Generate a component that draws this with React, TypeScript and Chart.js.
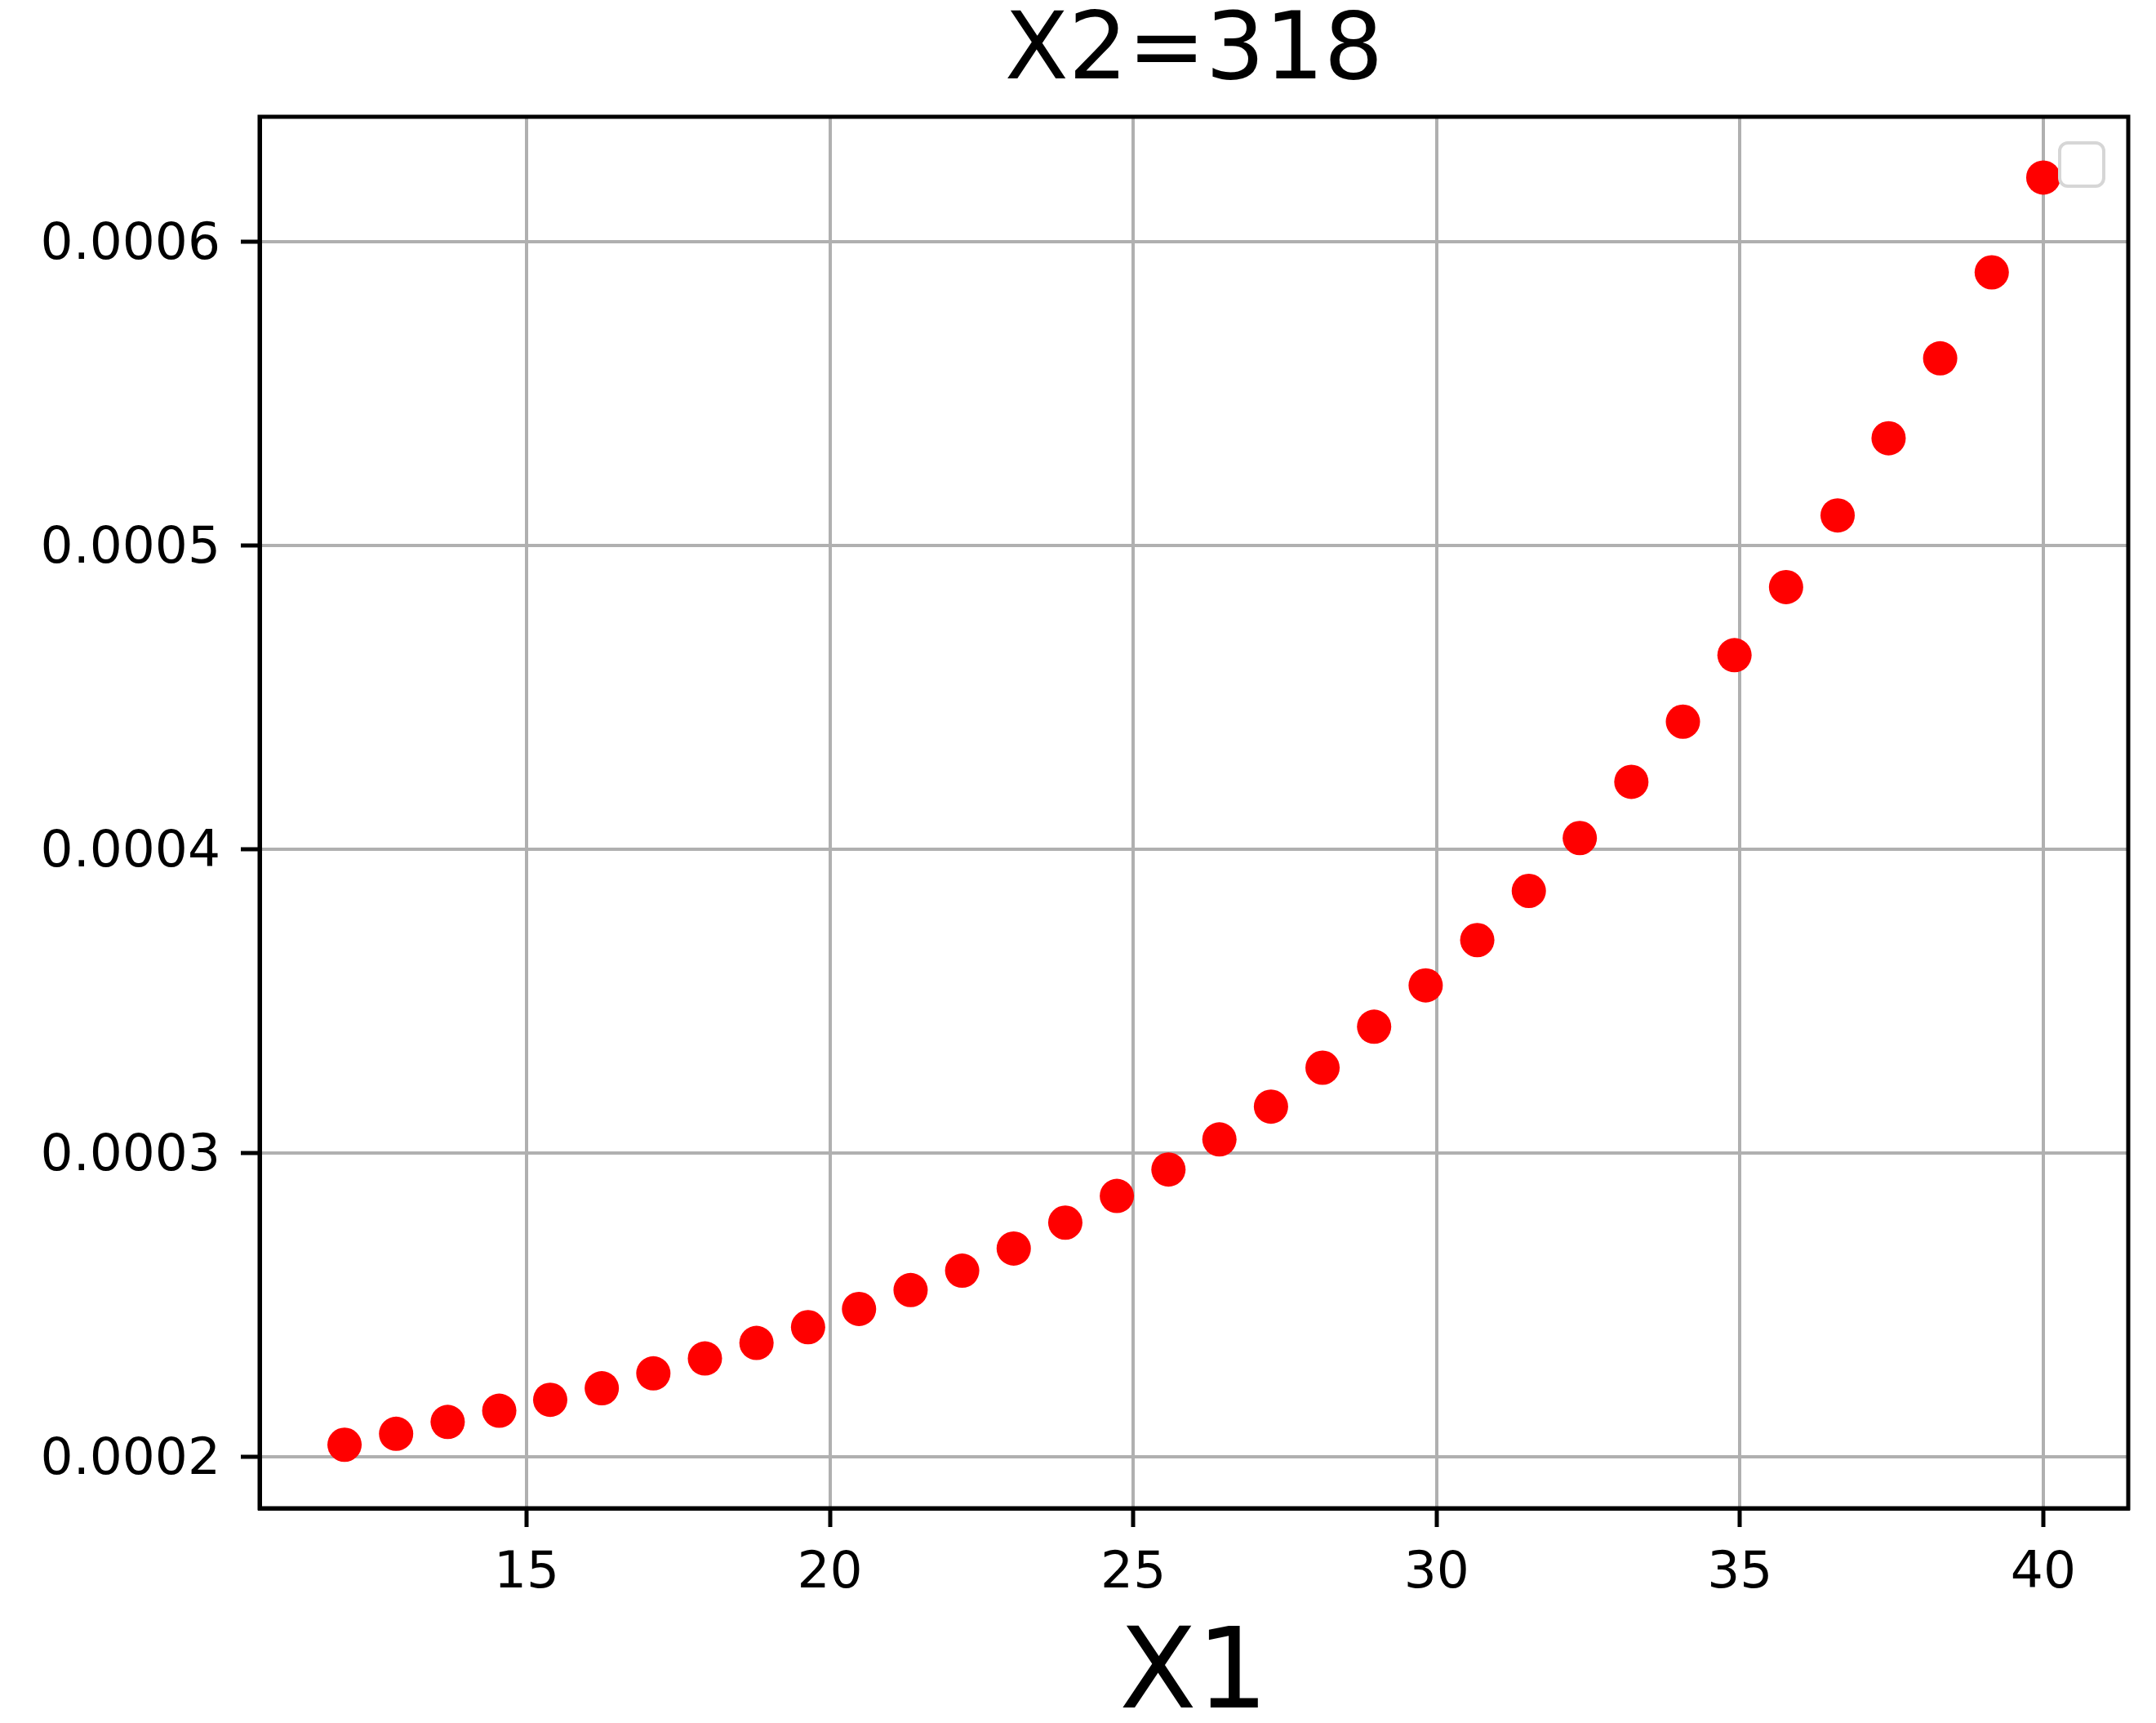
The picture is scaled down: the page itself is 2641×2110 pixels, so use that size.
import { useEffect, useRef } from 'react';
import { Chart, registerables, Plugin } from 'chart.js';

Chart.register(...registerables);

// data
const x1Values = [
  12.0, 12.85, 13.7, 14.55, 15.39, 16.24, 17.09, 17.94, 18.79, 19.64, 20.48, 21.33,
  22.18, 23.03, 23.88, 24.73, 25.58, 26.42, 27.27, 28.12, 28.97, 29.82, 30.67, 31.52,
  32.36, 33.21, 34.06, 34.91, 35.76, 36.61, 37.45, 38.3, 39.15, 40.0,
];
const probValues = [
  0.0002039, 0.0002075, 0.0002114, 0.0002151, 0.0002187, 0.0002225, 0.0002274, 0.0002323,
  0.0002374, 0.0002426, 0.0002486, 0.0002548, 0.0002612, 0.0002685, 0.000277, 0.0002858,
  0.0002945, 0.0003044, 0.0003152, 0.000328, 0.0003415, 0.0003551, 0.00037, 0.0003862,
  0.0004036, 0.0004221, 0.0004419, 0.0004638, 0.0004862, 0.0005098, 0.0005352, 0.0005615,
  0.0005898, 0.000621,
];
const xTicks = [15, 20, 25, 30, 35, 40];
const yTicks = [0.0002, 0.0003, 0.0004, 0.0005, 0.0006];
const xLimits = [10.6, 41.4];
const yLimits = [0.000183, 0.000641];

const FONT = 'DejaVu Sans';

// matplotlib style frame + the empty legend box in the corner
const framePlugin: Plugin = {
  id: 'frame',
  afterDraw(chart) {
    const { ctx, chartArea: a } = chart;
    ctx.save();
    ctx.strokeStyle = '#000';
    ctx.lineWidth = 5;
    ctx.strokeRect(a.left, a.top, a.right - a.left, a.bottom - a.top);

    ctx.strokeStyle = '#d6d6d6';
    ctx.lineWidth = 4;
    ctx.beginPath();
    ctx.roundRect(a.right - 84, a.top + 32, 54, 53, 10);
    ctx.fillStyle = 'rgba(255,255,255,0.8)';
    ctx.fill();
    ctx.stroke();
    ctx.restore();
  },
};

export default function App() {
  const canvasRef = useRef<HTMLCanvasElement>(null);
  const chartRef = useRef<Chart | null>(null);

  useEffect(() => {
    document.body.style.margin = '0';
    if (!canvasRef.current) return;
    if (chartRef.current) chartRef.current.destroy();

    chartRef.current = new Chart(canvasRef.current, {
      type: 'scatter',
      data: {
        datasets: [
          {
            data: x1Values.map((x, i) => ({ x, y: probValues[i] })),
            backgroundColor: '#ff0000',
            borderWidth: 0,
            pointRadius: 21,
            pointHoverRadius: 21,
          },
        ],
      },
      options: {
        animation: false,
        responsive: true,
        maintainAspectRatio: false,
        devicePixelRatio: 1,
        layout: { padding: { left: 0, right: 34, top: 0, bottom: 0 } },
        plugins: {
          legend: { display: false },
          tooltip: { enabled: false },
          title: {
            display: true,
            text: 'X2=318',
            color: '#000',
            fullSize: false,
            font: { family: FONT, size: 114, weight: 'normal', lineHeight: 1 },
            padding: { top: 9, bottom: 20 },
          },
        },
        scales: {
          x: {
            type: 'linear',
            min: xLimits[0],
            max: xLimits[1],
            afterBuildTicks: (scale) => {
              scale.ticks = xTicks.map((value) => ({ value }));
            },
            afterFit: (scale) => {
              scale.height = 263;
            },
            grid: {
              color: '#b0b0b0',
              lineWidth: 4,
              tickColor: '#000',
              tickWidth: 5,
              tickLength: 23,
            },
            border: { display: true, color: '#000', width: 5 },
            ticks: {
              color: '#000',
              padding: 20,
              font: { family: FONT, size: 63 },
              callback: (v) => String(v),
            },
            title: {
              display: true,
              text: 'X1',
              color: '#000',
              font: { family: FONT, size: 138, lineHeight: 0.8 },
              padding: { top: 0, bottom: 0 },
            },
          },
          y: {
            type: 'linear',
            min: yLimits[0],
            max: yLimits[1],
            afterBuildTicks: (scale) => {
              scale.ticks = yTicks.map((value) => ({ value }));
            },
            afterFit: (scale) => {
              scale.width = 318;
            },
            grid: {
              color: '#b0b0b0',
              lineWidth: 4,
              tickColor: '#000',
              tickWidth: 5,
              tickLength: 23,
            },
            border: { display: true, color: '#000', width: 5 },
            ticks: {
              color: '#000',
              padding: 25,
              labelOffset: 5,
              font: { family: FONT, size: 63 },
              callback: (v) => Number(v).toFixed(4),
            },
          },
        },
      },
      plugins: [framePlugin],
    });

    return () => {
      if (chartRef.current) {
        chartRef.current.destroy();
        chartRef.current = null;
      }
    };
  }, []);

  return (
    <div style={{ position: 'absolute', left: 0, top: 0, width: 2641, height: 2110 }}>
      <canvas ref={canvasRef}></canvas>
    </div>
  );
}
